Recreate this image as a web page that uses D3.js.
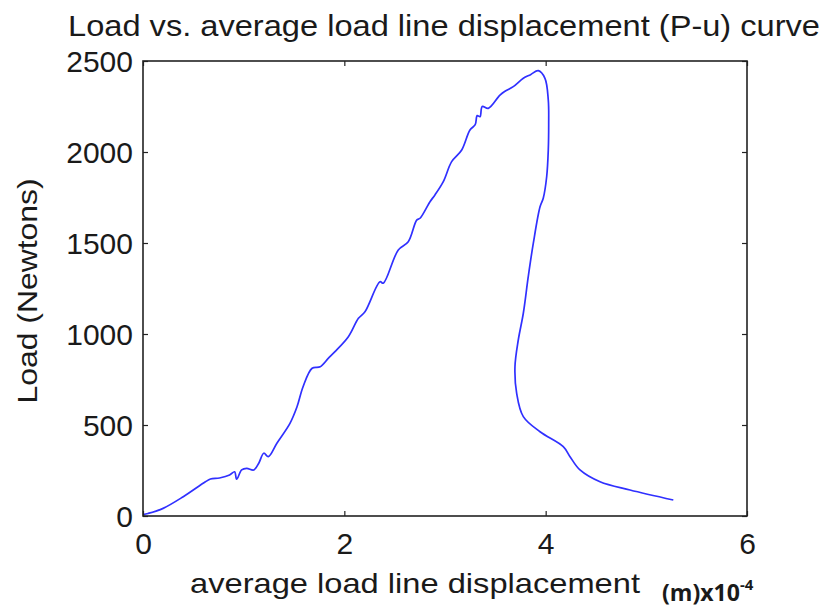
<!DOCTYPE html>
<html>
<head>
<meta charset="utf-8">
<script src="https://cdn.jsdelivr.net/npm/d3@7"></script>
<style>
html,body{margin:0;padding:0;background:#fff;}
svg{display:block;}
text{font-family:"Liberation Sans",Arial,sans-serif;fill:#1a1a1a;}
</style>
</head>
<body>
<svg id="chart" width="825" height="608"></svg>
<script>
// displacement (x10^-4 m)
const displacement = [0,0.05,0.20,0.40,0.62,0.67,0.76,0.86,0.91,0.93,0.98,1.03,1.10,1.15,1.20,1.245,1.33,1.46,1.53,1.59,1.68,1.76,1.84,1.907,2.04,2.14,2.205,2.354,2.387,2.536,2.635,2.719,2.752,2.851,2.90,2.983,3.066,3.166,3.248,3.30,3.32,3.348,3.37,3.43,3.546,3.60,3.678,3.778,3.85,3.927,3.993,4.026,4.030,4.026,4.01,3.976,3.944,3.877,3.827,3.778,3.728,3.695,3.712,3.778,3.944,4.175,4.242,4.341,4.54,4.838,5.268];
// load (N)
const load = [8,14,42,106,188,203,209,225,243,202,253,262,253,290,345,326,400,509,600,710,812,820,866,903,985,1086,1122,1287,1279,1462,1507,1626,1636,1727,1764,1837,1947,2011,2121,2150,2200,2194,2250,2240,2313,2335,2359,2405,2425,2447,2405,2286,2150,2011,1864,1746,1699,1498,1315,1114,967,820,674,546,463,381,326,253,188,143,88];
const xTicks = [0,2,4,6];
const yTicks = [0,500,1000,1500,2000,2500];
const titleText = "Load vs. average load line displacement (P-u) curve";
const xLabelText = "average load line displacement";
const yLabelText = "Load (Newtons)";

const svg = d3.select("#chart");
const L = 143, R = 747, T = 61, B = 516;
const x = d3.scaleLinear().domain([0,6]).range([L,R]);
const y = d3.scaleLinear().domain([0,2500]).range([B,T]);

// line
const pts = displacement.map((d,i)=>[d,load[i]]);
svg.append("path")
  .datum(pts)
  .attr("fill","none")
  .attr("stroke","#3030ff")
  .attr("stroke-width",1.7)
  .attr("stroke-linejoin","round")
  .attr("d", d3.line().curve(d3.curveCatmullRom.alpha(0.5)).x(d=>x(d[0])).y(d=>y(d[1])));

// axes
const fs = "30px";
const gx = svg.append("g").attr("transform",`translate(0,${B})`)
  .call(d3.axisBottom(x).tickValues(xTicks).tickSize(-5).tickPadding(12).tickFormat(d3.format("d")));
const gy = svg.append("g").attr("transform",`translate(${L},0)`)
  .call(d3.axisLeft(y).tickValues(yTicks).tickSize(-5).tickPadding(10).tickFormat(d3.format("d")));
const gx2 = svg.append("g").attr("transform",`translate(0,${T})`)
  .call(d3.axisTop(x).tickValues(xTicks).tickSize(-5).tickFormat(""));
const gy2 = svg.append("g").attr("transform",`translate(${R},0)`)
  .call(d3.axisRight(y).tickValues(yTicks).tickSize(-5).tickFormat(""));
[gx,gy,gx2,gy2].forEach(g=>{
  g.select(".domain").remove();
  g.selectAll("line").attr("stroke","#222").attr("stroke-width",1.2);
  g.selectAll("text").style("font-size",fs).attr("fill","#1a1a1a")
    .style("font-family","'Liberation Sans',Arial,sans-serif");
});
gy.selectAll("text").attr("dy","0.36em");
gx.selectAll("text").attr("dy","0.85em");

svg.append("rect").attr("x",L).attr("y",T).attr("width",R-L).attr("height",B-T)
  .attr("fill","none").attr("stroke","#222").attr("stroke-width",1.6);

// title
svg.append("text").attr("x",444).attr("y",36).attr("text-anchor","middle")
  .style("font-size","30px").attr("textLength",752).attr("lengthAdjust","spacingAndGlyphs")
  .text(titleText);
// x label
svg.append("text").attr("x",415).attr("y",593).attr("text-anchor","middle")
  .style("font-size","28px").attr("textLength",450).attr("lengthAdjust","spacingAndGlyphs")
  .text(xLabelText);
const u = svg.append("text").attr("x",662).attr("y",601)
  .style("font-size","23px").style("font-weight","bold")
  .style("font-family","'Open Sans','Liberation Sans',sans-serif");
u.append("tspan").attr("textLength",78).attr("lengthAdjust","spacingAndGlyphs").text("(m)x10");
u.append("tspan").attr("dy",-11).style("font-size","15px").text("-4");
// y label
svg.append("text").attr("transform","translate(37,291) rotate(-90)").attr("text-anchor","middle")
  .style("font-size","28px").attr("textLength",225).attr("lengthAdjust","spacingAndGlyphs")
  .text(yLabelText);
</script>
</body>
</html>
